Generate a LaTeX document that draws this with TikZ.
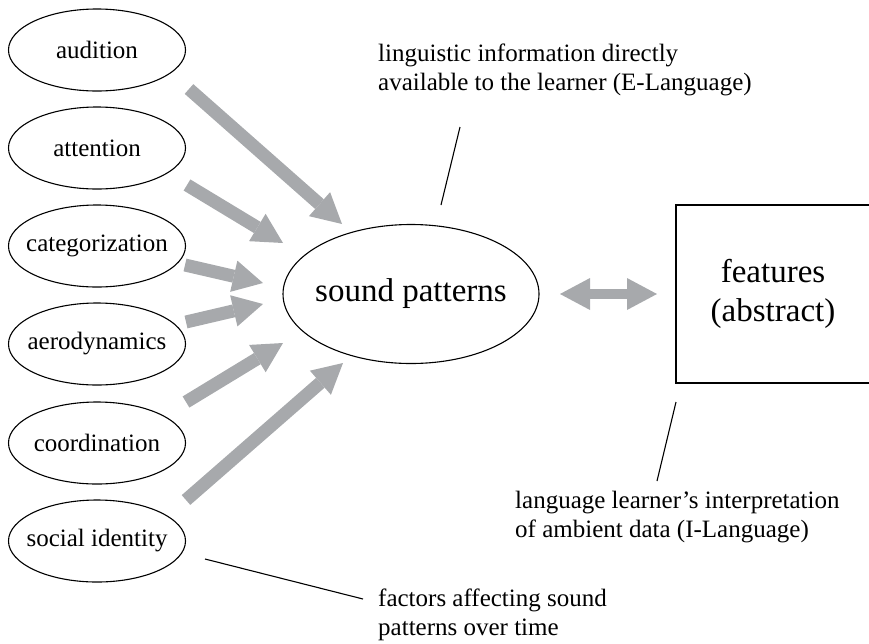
\documentclass[tikz,border=0pt]{standalone}
\usepackage{fontspec}
\setmainfont{Liberation Serif}
\usetikzlibrary{arrows.meta,shapes.geometric}
\definecolor{arrowgray}{RGB}{167,169,172}

\begin{document}
\begin{tikzpicture}[x=1pt,y=-1pt,
  factor/.style={draw,ellipse,line width=1.1pt,minimum width=177pt,minimum height=82pt,inner sep=0pt,inner xsep=-30pt,font=\fontsize{25}{30}\selectfont},
  bigtext/.style={font=\fontsize{33}{39}\selectfont},
  note/.style={align=left,inner sep=0pt,anchor=base west,font=\fontsize{25}{29}\selectfont},
  inarrow/.style={arrowgray,line width=13pt,-{Triangle[width=32pt,length=30pt,line width=0pt]}},
  bothways/.style={arrowgray,line width=10pt,{Triangle[width=32pt,length=30pt,line width=0pt]}-{Triangle[width=32pt,length=30pt,line width=0pt]}},
  pointer/.style={line width=1.1pt}]
\useasboundingbox (0,0) rectangle (869,643);
\clip (0,0) rectangle (869,643);

\node [factor] (aud) at (97,50) {audition};
\node [factor] (att) at (97,148) {attention};
\node [factor] (cat) at (97,246) {categorization};
\node [factor] (aer) at (97,344) {aerodynamics};
\node [factor] (coo) at (97,443) {coordination};
\node [factor] (soc) at (97,541) {social identity};

\node [draw,ellipse,line width=1.1pt,minimum width=256pt,minimum height=139pt,inner sep=0pt,inner xsep=-40pt,bigtext] (sp) at (411,294) {sound patterns};
\node [draw,rectangle,line width=1.1pt,minimum width=194pt,minimum height=178pt,align=center,bigtext] (feat) at (773,294) {features\\(abstract)};

\foreach \n/\tx/\ty/\hx/\hy in {1/189/89/342/224, 2/187/185/283/243, 3/185/265/263/283,
  4/186/322/263/304, 5/186/402/283/343, 6/186/500/343/363}
{
  \coordinate (tail\n) at (\tx,\ty);
  \coordinate (head\n) at (\hx,\hy);
  \draw [inarrow] (tail\n) -- (head\n);
}
\coordinate (sp-r) at (560,294);
\coordinate (feat-l) at (657,294);
\draw [bothways] (sp-r) -- (feat-l);

\node [note] (elang) at (378,90) {linguistic information directly\\available to the learner (E-Language)};
\node [note] (ilang) at (515,537) {language learner’s interpretation\\of ambient data (I-Language)};
\node [note] (time) at (378,635) {factors affecting sound\\patterns over time};

\coordinate (e1) at (460,127);
\coordinate (e2) at (441,205);
\draw [pointer] (e1) -- (e2);
\coordinate (i1) at (676,402);
\coordinate (i2) at (657,481);
\draw [pointer] (i1) -- (i2);
\coordinate (t1) at (205,559);
\coordinate (t2) at (363,599);
\draw [pointer] (t1) -- (t2);
\end{tikzpicture}
\end{document}
